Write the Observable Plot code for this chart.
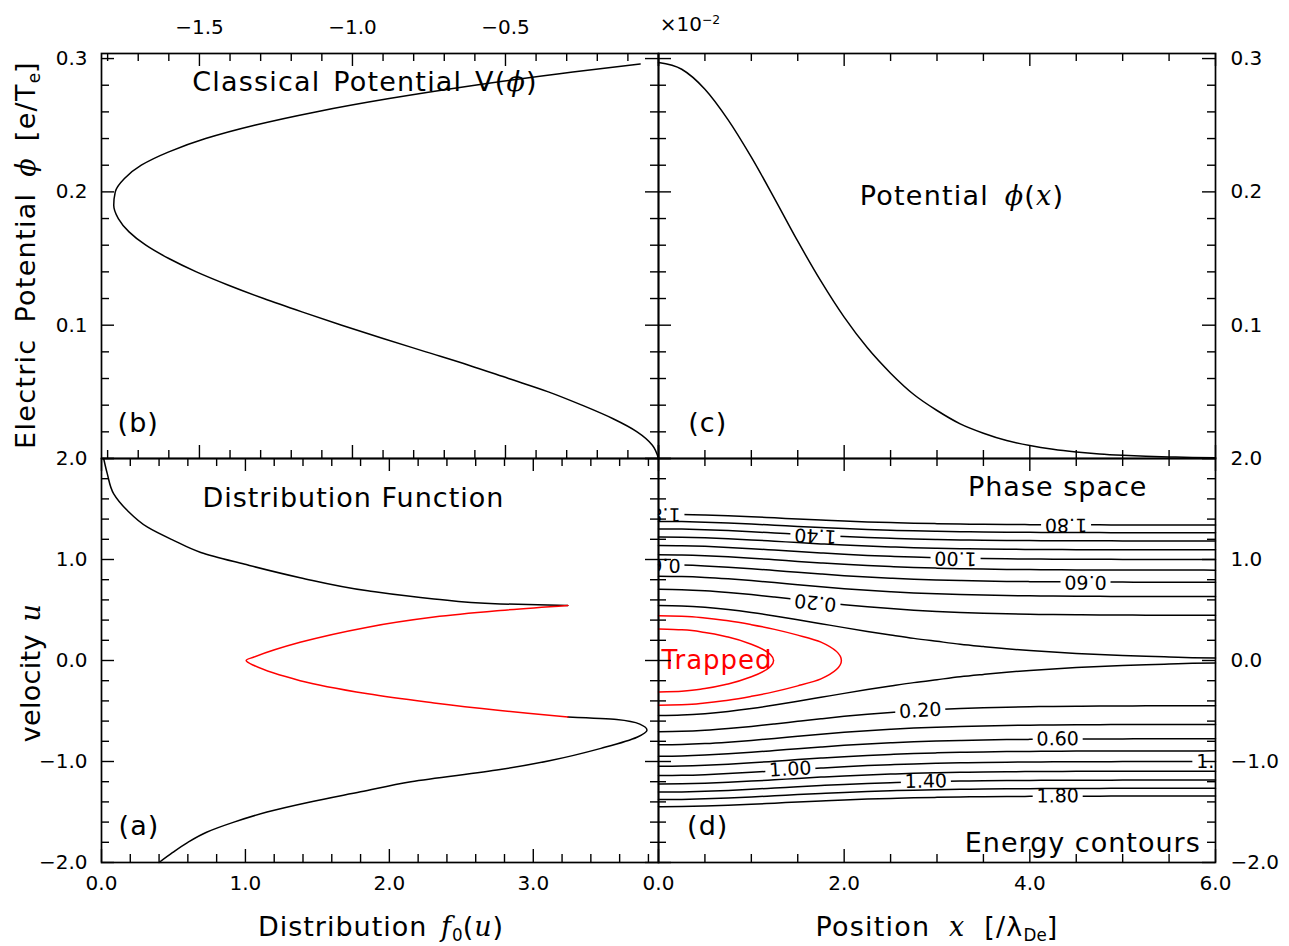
<!DOCTYPE html>
<html>
<head>
<meta charset="utf-8">
<script src="https://cdn.jsdelivr.net/npm/d3@7"></script>
<script src="https://cdn.jsdelivr.net/npm/@observablehq/plot@0.6"></script>
<style>
  html, body { margin: 0; padding: 0; background: #fff; overflow: hidden; }
  #fig { position: relative; width: 1289px; height: 946px; font-family: "DejaVu Sans", sans-serif; color: #000; }
  #fig svg { position: absolute; left: 0; top: 0; }
  .lbl { position: absolute; white-space: nowrap; transform: translate(-50%, -50%); font-size: 27px; line-height: 1; letter-spacing: 1px; word-spacing: 3px; }
  .m { font-family: "DejaVu Serif", serif; font-style: italic; }
  .lbl sub { font-size: 0.62em; vertical-align: -0.3em; letter-spacing: 0; }
  .lbl sup { font-size: 0.62em; vertical-align: 0.55em; letter-spacing: 0; }
</style>
</head>
<body>
<div id="fig"></div>
<script>
// ---------------- data ----------------
// (b) classical (Sagdeev) potential V(phi); V in units of 1e-2
const sagdeevPhi = [0, 0.01, 0.02, 0.03, 0.04, 0.05, 0.06, 0.07, 0.08, 0.09, 0.10, 0.11, 0.12, 0.13, 0.14, 0.15,
  0.16, 0.17, 0.18, 0.19, 0.20, 0.21, 0.22, 0.23, 0.24, 0.25, 0.26, 0.27, 0.28, 0.29, 0.296];
const sagdeevV = [0, -0.02, -0.07, -0.15, -0.25, -0.36, -0.49, -0.62, -0.76, -0.90, -1.035, -1.165, -1.29, -1.405, -1.51, -1.60,
  -1.675, -1.73, -1.765, -1.78, -1.775, -1.745, -1.69, -1.60, -1.48, -1.32, -1.12, -0.88, -0.60, -0.28, -0.06];

// (c) potential profile phi(x)
const positionX = [0, 0.25, 0.5, 0.75, 1, 1.25, 1.5, 1.75, 2, 2.25, 2.5, 2.75, 3, 3.25, 3.5, 3.75, 4,
  4.25, 4.5, 4.75, 5, 5.25, 5.5, 5.75, 6];
const potentialPhi = [0.297, 0.292, 0.277, 0.254, 0.226, 0.195, 0.163, 0.133, 0.106, 0.083, 0.064, 0.048, 0.036,
  0.026, 0.019, 0.0135, 0.0097, 0.0069, 0.0049, 0.0034, 0.0024, 0.0017, 0.0012, 0.0008, 0.0006];

// (a) distribution function f0(u): passing (u > 0), trapped, passing (u < 0)
const passingTopF = [0.015, 0.04, 0.085, 0.18, 0.32, 0.50, 0.69, 0.99, 1.38, 1.85, 2.31, 2.77, 3.24];
const passingTopU = [2.0, 1.85, 1.65, 1.485, 1.32, 1.19, 1.07, 0.955, 0.82, 0.69, 0.61, 0.56, 0.545];
const trappedF = [3.24, 2.77, 2.31, 1.85, 1.38, 1.06, 1.005, 1.06, 1.38, 1.85, 2.31, 2.77, 3.24];
const trappedU = [0.545, 0.495, 0.43, 0.33, 0.18, 0.035, 0, -0.05, -0.20, -0.33, -0.42, -0.495, -0.56];
const passingBottomF = [3.24, 3.58, 3.74, 3.79, 3.72, 3.47, 3.12, 2.77, 2.15, 1.80, 1.45, 1.15, 0.92, 0.73, 0.60, 0.495, 0.40];
const passingBottomU = [-0.56, -0.585, -0.63, -0.69, -0.76, -0.87, -0.99, -1.08, -1.2, -1.3, -1.4, -1.5, -1.6, -1.7, -1.8, -1.9, -2.0];

// (d) energy contours E = u^2 - phi(x)
const passingLevels = [0.2, 0.4, 0.6, 0.8, 1.0, 1.2, 1.4, 1.6, 1.8];
const separatrixLevel = 0;
const trappedLevels = [-0.1, -0.2];
const trappedTipX = [1.97, 1.24];
const contourLabelX = [4.39, 1.69, 3.2, 4.6, 1.69, 0.01, 0.01, 2.82, 4.3, 1.42, 2.88, 4.3, 6.02];
const contourLabelLevel = [1.8, 1.4, 1.0, 0.6, 0.2, 1.8, 0.6, 0.2, 0.6, 1.0, 1.4, 1.8, 1.0];
const contourLabelSide = [1, 1, 1, 1, 1, 1, 1, -1, -1, -1, -1, -1, -1];

// tick labels
const phiTicks = [0.1, 0.2, 0.3];
const phiTickLabels = ["0.1", "0.2", "0.3"];
const vTicks = [-1.5, -1.0, -0.5];
const vTickLabels = ["\u22121.5", "\u22121.0", "\u22120.5"];
const uTicks = [2, 1, 0, -1, -2];
const uTickLabels = ["2.0", "1.0", "0.0", "\u22121.0", "\u22122.0"];
const fTicks = [0, 1, 2, 3];
const fTickLabels = ["0.0", "1.0", "2.0", "3.0"];
const xTicks = [0, 2, 4, 6];
const xTickLabels = ["0.0", "2.0", "4.0", "6.0"];

// ---------------- layout ----------------
const W = 1289, H = 946;
const L = 101, M = 658, R = 1215, T = 53, C = 458, B = 862;
const fig = document.getElementById("fig");

const vDomain = [-1.82, 0];
const phiDomain = [0, 0.3038];
const fDomain = [0, 3.87];
const xDomain = [0, 6];
const uDomain = [-2, 2];

function panel(x0, x1, y0, y1, xd, yd, marks) {
  const svg = Plot.plot({
    width: W, height: H,
    marginLeft: x0, marginRight: W - x1, marginTop: y0, marginBottom: H - y1,
    x: {domain: xd, axis: null},
    y: {domain: yd, axis: null},
    style: {background: "none", overflow: "visible", fontFamily: "DejaVu Sans, sans-serif", fontSize: "20px", color: "black"},
    marks
  });
  // wider tracking for the in-panel captions
  d3.select(svg).selectAll('g[font-size="27"] text, g[font-size="26"] text').attr("letter-spacing", "1px");
  return svg;
}

function minorOf(lo, hi, step, majors) {
  return d3.range(lo, hi + step / 2, step).filter(v => !majors.some(m => Math.abs(m - v) < 1e-6));
}

// inward-pointing ticks on all four sides of a frame
function frameTicks(fw, fh, xMaj, xMin, yMaj, yMin) {
  const big = 13, small = 8, sw = 1.4;
  const out = [];
  for (const [vals, len] of [[xMaj, big], [xMin, small]]) {
    out.push(Plot.tickX(vals, {x: d => d, insetBottom: fh - len, strokeWidth: sw}));
    out.push(Plot.tickX(vals, {x: d => d, insetTop: fh - len, strokeWidth: sw}));
  }
  for (const [vals, len] of [[yMaj, big], [yMin, small]]) {
    out.push(Plot.tickY(vals, {y: d => d, insetRight: fw - len, strokeWidth: sw}));
    out.push(Plot.tickY(vals, {y: d => d, insetLeft: fw - len, strokeWidth: sw}));
  }
  out.push(Plot.frame({stroke: "black", strokeWidth: 1.7}));
  return out;
}

const panelText = (rows) => Plot.text(rows, {x: "x", y: "y", text: "t", fontSize: 27, fill: "black"});

// ---------- (b) classical potential ----------
const sagdeevRows = sagdeevPhi.map((p, i) => ({V: sagdeevV[i], phi: p}));
const vMajor = [-1.5, -1.0, -0.5, 0];
const phiMajor = [0, 0.1, 0.2, 0.3];
fig.appendChild(panel(L, M, T, C, vDomain, phiDomain, [
  Plot.line(sagdeevRows, {x: "V", y: "phi", curve: "monotone-y", stroke: "black", strokeWidth: 1.5}),
  panelText([{x: -1.70, y: 0.026, t: "(b)"}]),
  Plot.text(phiTicks, {y: d => d, text: (d, i) => phiTickLabels[i], frameAnchor: "left", textAnchor: "end", dx: -14}),
  Plot.text(vTicks, {x: d => d, text: (d, i) => vTickLabels[i], frameAnchor: "top", dy: -34}),
  ...frameTicks(M - L, C - T, vMajor, minorOf(-1.8, 0, 0.1, vMajor), phiMajor, minorOf(0, 0.3, 0.02, phiMajor))
]));

// ---------- (c) potential profile ----------
const profileRows = positionX.map((x, i) => ({x, phi: potentialPhi[i]}));
const xMajor = [0, 2, 4, 6];
fig.appendChild(panel(M, R, T, C, xDomain, phiDomain, [
  Plot.line(profileRows, {x: "x", y: "phi", curve: "monotone-x", stroke: "black", strokeWidth: 1.5}),
  panelText([{x: 0.53, y: 0.026, t: "(c)"}]),
  Plot.text(phiTicks, {y: d => d, text: (d, i) => phiTickLabels[i], frameAnchor: "right", textAnchor: "start", dx: 15}),
  ...frameTicks(R - M, C - T, xMajor, minorOf(0, 6, 0.5, xMajor), phiMajor, minorOf(0, 0.3, 0.02, phiMajor))
]));

// ---------- (a) distribution function ----------
const topRows = passingTopF.map((f, i) => ({f, u: passingTopU[i]}));
const trapRows = trappedF.map((f, i) => ({f, u: trappedU[i]}));
const botRows = passingBottomF.map((f, i) => ({f, u: passingBottomU[i]}));
const fMajor = [0, 1, 2, 3];
const uMajor = [-2, -1, 0, 1, 2];
fig.appendChild(panel(L, M, C, B, fDomain, uDomain, [
  Plot.line(topRows, {x: "f", y: "u", curve: "monotone-y", stroke: "black", strokeWidth: 1.5}),
  Plot.line(botRows, {x: "f", y: "u", curve: "monotone-y", stroke: "black", strokeWidth: 1.5}),
  Plot.line(trapRows, {x: "f", y: "u", curve: "catmull-rom", stroke: "#ff0000", strokeWidth: 1.5}),
  panelText([{x: 1.75, y: 1.61, t: "Distribution Function"}, {x: 0.26, y: -1.64, t: "(a)"}]),
  Plot.text(uTicks, {y: d => d, text: (d, i) => uTickLabels[i], frameAnchor: "left", textAnchor: "end", dx: -14}),
  Plot.text(fTicks, {x: d => d, text: (d, i) => fTickLabels[i], frameAnchor: "bottom", dy: 27}),
  ...frameTicks(M - L, B - C, fMajor, minorOf(0, 3.8, 0.2, fMajor), uMajor, minorOf(-2, 2, 0.2, uMajor))
]));

// ---------- (d) phase-space energy contours ----------
const contourRows = [];
for (const E of [separatrixLevel, ...passingLevels]) {
  for (const s of [1, -1]) {
    positionX.forEach((x, i) => contourRows.push({x, u: s * Math.sqrt(E + potentialPhi[i]), key: `${E}:${s}`}));
  }
}
// closed trapped orbits, ordered from top to bottom so x is a function of u
const trappedRows = [];
trappedLevels.forEach((E, k) => {
  const idx = positionX.map((x, i) => i).filter(i => potentialPhi[i] + E > 0.01 && positionX[i] < trappedTipX[k]);
  idx.forEach(i => trappedRows.push({x: positionX[i], u: Math.sqrt(E + potentialPhi[i]), key: E}));
  trappedRows.push({x: trappedTipX[k], u: 0, key: E});
  idx.slice().reverse().forEach(i => trappedRows.push({x: positionX[i], u: -Math.sqrt(E + potentialPhi[i]), key: E}));
});

// contour labels sit on their own line; angle follows the local slope on screen
const pxPerX = (R - M) / (xDomain[1] - xDomain[0]);
const pxPerU = (B - C) / (uDomain[1] - uDomain[0]);
const labelRows = contourLabelX.map((x, k) => {
  const lev = contourLabelLevel[k], s = contourLabelSide[k];
  const i = Math.max(0, Math.min(positionX.length - 1, Math.round(x / 0.25)));
  const i0 = Math.max(0, i - 1), i1 = Math.min(positionX.length - 1, i + 1);
  const uAt = j => s * Math.sqrt(lev + potentialPhi[j]);
  const slope = (uAt(i1) - uAt(i0)) / (positionX[i1] - positionX[i0]);
  const angle = Math.atan(-slope * pxPerU / pxPerX) * 180 / Math.PI;
  const half = 25 / pxPerX;
  return {x, u: uAt(i), text: lev.toFixed(2), rotate: s > 0 ? 180 + angle : angle,
          x1: x - half, x2: x + half, u1: uAt(i) - slope * half, u2: uAt(i) + slope * half};
});

fig.appendChild(panel(M, R, C, B, xDomain, uDomain, [
  Plot.line(contourRows, {x: "x", y: "u", z: "key", curve: "monotone-x", stroke: "black", strokeWidth: 1.5}),
  Plot.line(trappedRows, {x: "x", y: "u", z: "key", curve: "monotone-y", stroke: "#ff0000", strokeWidth: 1.5}),
  Plot.link(labelRows, {x1: "x1", y1: "u1", x2: "x2", y2: "u2", stroke: "white", strokeWidth: 5, clip: true}),
  Plot.text(labelRows, {x: "x", y: "u", text: "text", rotate: "rotate", fontSize: 19, fill: "black", clip: true}),
  Plot.text([{x: 0.63, y: 0, t: "Trapped"}], {x: "x", y: "y", text: "t", fontSize: 26, fill: "#ff0000"}),
  panelText([{x: 4.30, y: 1.71, t: "Phase space"}, {x: 4.57, y: -1.81, t: "Energy contours"}, {x: 0.53, y: -1.64, t: "(d)"}]),
  Plot.text(uTicks, {y: d => d, text: (d, i) => uTickLabels[i], frameAnchor: "right", textAnchor: "start", dx: 15}),
  Plot.text(xTicks, {x: d => d, text: (d, i) => xTickLabels[i], frameAnchor: "bottom", dy: 27}),
  ...frameTicks(R - M, B - C, xMajor, minorOf(0, 6, 0.5, xMajor), uMajor, minorOf(-2, 2, 0.2, uMajor))
]));

// ---------------- titles and math annotations ----------------
function label(html, cx, cy, rotate, spacing) {
  const d = document.createElement("div");
  d.className = "lbl";
  d.innerHTML = html;
  d.style.left = cx + "px";
  d.style.top = cy + "px";
  if (rotate) d.style.transform = `translate(-50%, -50%) rotate(${rotate}deg)`;
  if (spacing) { d.style.letterSpacing = spacing[0] + "px"; d.style.wordSpacing = spacing[1] + "px"; }
  fig.appendChild(d);
  return d;
}
label('Classical Potential V(<span class="m">ϕ</span>)', 365, 81, 0, [1.2, 3]);
label('Potential <span class="m">ϕ</span>(<span class="m">x</span>)', 962, 195, 0, [1.2, 6]);
label('Distribution <span class="m">f</span><sub>0</sub>(<span class="m">u</span>)', 381, 928, 0, [1, 4]);
label('Position <span class="m">x</span> [/λ<sub>De</sub>]', 937, 928, 0, [1.2, 9]);
label('Electric Potential <span class="m">ϕ</span> [e/T<sub>e</sub>]', 27, 255, -90, [1.3, 6]);
label('velocity <span class="m">u</span>', 30, 673, -90, [0.3, 4]);
const mult = label('×10<sup>−2</sup>', 690, 24, 0, [0, 0]);
mult.style.fontSize = "20px";
</script>
</body>
</html>
